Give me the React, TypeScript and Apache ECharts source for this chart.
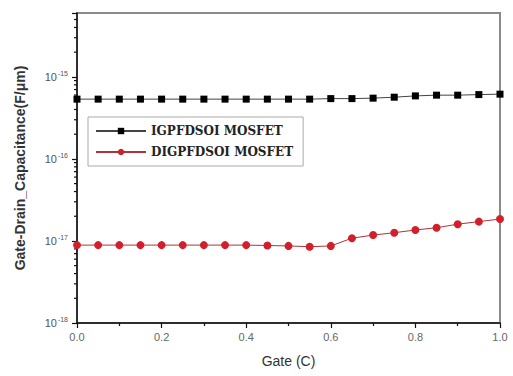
import React, { useEffect, useRef } from "react";
import * as echarts from "echarts";

const gateValues = [0, 0.05, 0.1, 0.15, 0.2, 0.25, 0.3, 0.35, 0.4, 0.45, 0.5, 0.55, 0.6, 0.65, 0.7, 0.75, 0.8, 0.85, 0.9, 0.95, 1.0];
const igpfdsoi = [5.35e-16, 5.35e-16, 5.35e-16, 5.35e-16, 5.35e-16, 5.35e-16, 5.35e-16, 5.35e-16, 5.35e-16, 5.35e-16, 5.35e-16, 5.35e-16, 5.43e-16, 5.43e-16, 5.5e-16, 5.65e-16, 5.86e-16, 5.98e-16, 5.98e-16, 6.08e-16, 6.15e-16];
const digpfdsoi = [8.9e-18, 8.9e-18, 8.9e-18, 8.9e-18, 8.9e-18, 8.9e-18, 8.9e-18, 8.9e-18, 8.9e-18, 8.8e-18, 8.7e-18, 8.5e-18, 8.7e-18, 1.08e-17, 1.18e-17, 1.26e-17, 1.36e-17, 1.45e-17, 1.6e-17, 1.72e-17, 1.85e-17];
const seriesNames = ["IGPFDSOI MOSFET", "DIGPFDSOI MOSFET"];
const xTickLabels = ["0.0", "0.2", "0.4", "0.6", "0.8", "1.0"];
const yMin = 1e-18;
const yMax = 6e-15;
const minorMultipliers = [2, 3, 4, 5, 6, 7, 8, 9];
// plot in units of 1e-18 to keep the log scale numerically safe
const unit = 1e-18;
const unitExp = -18;

export default function App() {
  const ref = useRef<HTMLDivElement>(null);
  useEffect(() => {
    if (!ref.current) return;
    const chart = echarts.init(ref.current, null, { renderer: "svg" });
    const sMin = yMin / unit;
    const sMax = yMax / unit;
    const minorVals: number[] = [];
    for (let d = sMin; d < sMax; d *= 10) {
      for (const k of minorMultipliers) {
        if (k * d < sMax) minorVals.push(k * d);
      }
    }
    const toPairs = (arr: number[]) => gateValues.map((x, i) => [x, arr[i] / unit]);
    chart.setOption({
      animation: false,
      grid: { left: 77, right: 13, top: 13, bottom: 53, show: true, borderColor: "#8a8a8a", borderWidth: 2 },
      legend: {
        orient: "vertical", left: 88, top: 117, padding: [8, 10, 8, 7], itemWidth: 50, itemHeight: 8, itemGap: 9,
        borderColor: "#aaa", borderWidth: 1,
        textStyle: { fontFamily: "DejaVu Serif", fontWeight: "bold", fontSize: 12, color: "#222" },
        data: seriesNames,
      },
      xAxis: {
        type: "value", min: 0, max: 1, interval: 0.2,
        name: "Gate (C)", nameLocation: "middle", nameGap: 31,
        nameTextStyle: { fontFamily: "Liberation Sans", fontSize: 14, color: "#333" },
        axisLine: { show: true, lineStyle: { color: "#111", width: 1.5 } },
        axisTick: { show: true, inside: false, length: 5, lineStyle: { color: "#111", width: 1.2 } },
        minorTick: { show: true, splitNumber: 2, length: 3, lineStyle: { color: "#111", width: 1.2 } },
        splitLine: { show: false },
        axisLabel: {
          fontFamily: "Liberation Sans", fontSize: 11, color: "#666", margin: 8,
          formatter: (v: number) => xTickLabels[Math.round(v / 0.2)] ?? "",
        },
      },
      yAxis: {
        type: "log", logBase: 10, min: sMin, max: sMax, position: "left",
        name: "Gate-Drain_Capacitance(F/\u03bcm)", nameLocation: "middle", nameGap: 50, nameRotate: 90,
        nameTextStyle: { fontFamily: "Liberation Sans", fontWeight: "bold", fontSize: 14, color: "#333" },
        axisLine: { show: true, lineStyle: { color: "#111", width: 1.5 } },
        axisTick: { show: true, length: 5, lineStyle: { color: "#111", width: 1.2 } },
        splitLine: { show: false },
        axisLabel: {
          margin: 9,
          formatter: (v: number) => {
            const e = Math.log10(v);
            if (Math.abs(e - Math.round(e)) > 1e-6) return "";
            return `{b|10}{s|${Math.round(e) + unitExp}}`;
          },
          rich: {
            b: { fontFamily: "Liberation Sans", fontSize: 11, color: "#555" },
            s: { fontFamily: "Liberation Sans", fontSize: 7, color: "#555", padding: [0, 0, 7, 1] },
          },
        },
      },
      series: [
        { name: seriesNames[0], type: "line", data: toPairs(igpfdsoi), symbol: "rect", symbolSize: 7, itemStyle: { color: "#000" }, lineStyle: { color: "#444", width: 1 } },
        { name: seriesNames[1], type: "line", data: toPairs(digpfdsoi), symbol: "circle", symbolSize: 8, itemStyle: { color: "#d21f2b" }, lineStyle: { color: "#b0333a", width: 1 } },
        {
          name: "minorTicks", type: "custom", clip: false, silent: true,
          data: minorVals.map((v) => [0, v]),
          renderItem: (_params: any, api: any) => {
            const p = api.coord([0, api.value(1)]);
            return { type: "line", shape: { x1: p[0] - 3, y1: p[1], x2: p[0], y2: p[1] }, style: { stroke: "#111", lineWidth: 1.2 } };
          },
        },
      ],
    });
    return () => chart.dispose();
  }, []);
  return <div ref={ref} style={{ width: 513, height: 376, position: "absolute", left: 0, top: 0 }} />;
}
